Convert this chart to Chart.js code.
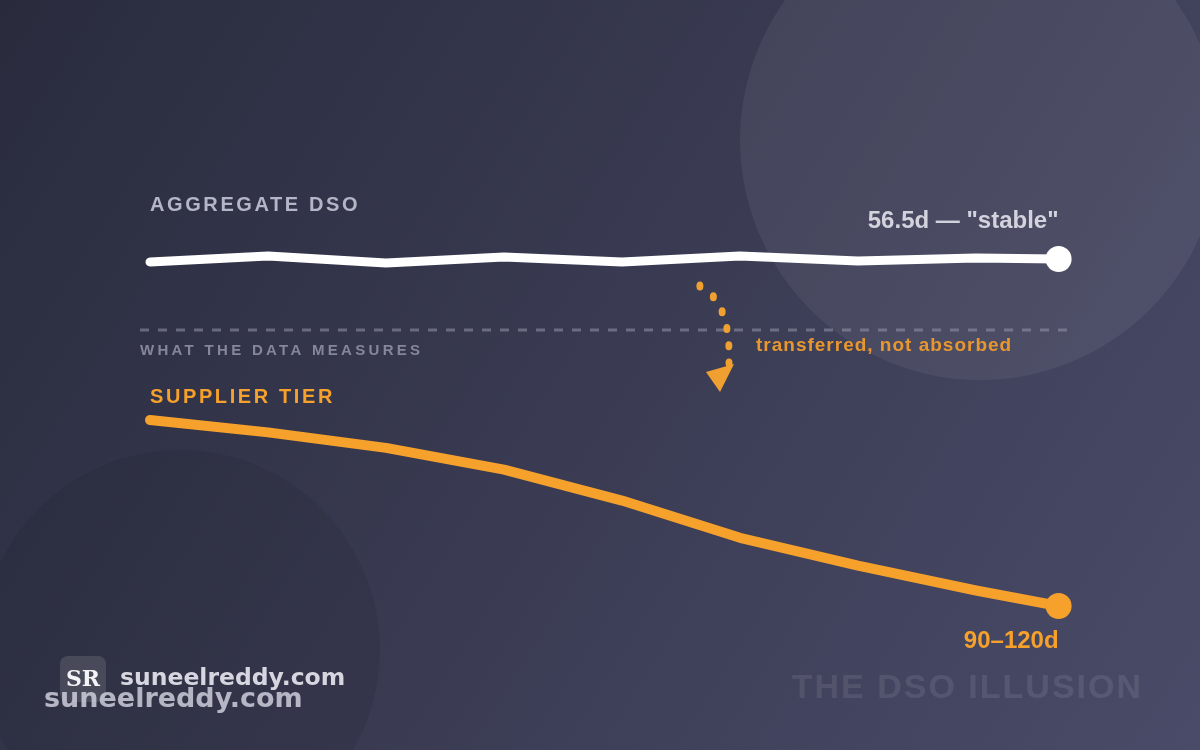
<!DOCTYPE html>
<html>
<head>
<meta charset="utf-8">
<script src="https://cdn.jsdelivr.net/npm/chart.js@4"></script>
<style>
  html, body { margin:0; padding:0; background:#2b2c3f; }
  #wrap { position:relative; width:1200px; height:750px; }
</style>
</head>
<body>
<div id="wrap"><canvas id="c"></canvas></div>
<script>
// periods along the timeline (last one is the current reading)
const periods = [0, 1, 2, 3, 4, 5, 6, 7, 7.7];
// aggregate DSO in days, looks flat
const aggregateDso = [56.2, 56.8, 56.1, 56.7, 56.2, 56.8, 56.3, 56.6, 56.5];
// days suppliers actually wait for payment
const supplierDays = [45, 49, 54, 61, 71, 83, 92, 100, 105];

const WHITE = '#ffffff';
const ORANGE = '#f5a12b';
const FONT = '"Liberation Sans", Arial, sans-serif';

const toPts = (ys) => ys.map((y, i) => ({ x: periods[i], y }));

// quadratic curve, dots spaced evenly along its length
function evenDots(p0, c, p1, n){
  const q = (t) => ({
    x: (1-t)*(1-t)*p0.x + 2*(1-t)*t*c.x + t*t*p1.x,
    y: (1-t)*(1-t)*p0.y + 2*(1-t)*t*c.y + t*t*p1.y
  });
  const samples = [];
  let len = 0, prev = q(0);
  for (let i = 0; i <= 200; i++){
    const p = q(i/200);
    len += Math.hypot(p.x-prev.x, p.y-prev.y);
    samples.push({ p, len });
    prev = p;
  }
  const out = [];
  for (let k = 0; k < n; k++){
    const target = len * k / (n-1);
    const s = samples.find(s => s.len >= target - 1e-6) || samples[samples.length-1];
    out.push(s.p);
  }
  return out;
}

const decor = {
  id: 'decor',
  beforeDraw(chart) {
    const { ctx, width: w, height: h } = chart;
    ctx.save();
    const g = ctx.createLinearGradient(0, 0, w, h);
    g.addColorStop(0, '#292b3d');
    g.addColorStop(1, '#4a4b68');
    ctx.fillStyle = g;
    ctx.fillRect(0, 0, w, h);
    // soft circles
    ctx.fillStyle = 'rgba(255,255,255,0.06)';
    ctx.beginPath(); ctx.arc(980, 140, 240, 0, Math.PI * 2); ctx.fill();
    ctx.fillStyle = 'rgba(0,0,0,0.07)';
    ctx.beginPath(); ctx.arc(180, 650, 200, 0, Math.PI * 2); ctx.fill();
    ctx.restore();
  },
  afterDatasetsDraw(chart) {
    const { ctx } = chart;
    const x = chart.scales.x;
    const lastX = x.getPixelForValue(periods[periods.length - 1]);
    ctx.save();

    // divider
    ctx.strokeStyle = 'rgba(150,150,170,0.55)';
    ctx.lineWidth = 3;
    ctx.setLineDash([9, 9]);
    ctx.beginPath(); ctx.moveTo(140, 330); ctx.lineTo(1070, 330); ctx.stroke();
    ctx.setLineDash([]);

    ctx.textBaseline = 'middle';
    ctx.textAlign = 'left';

    ctx.font = 'bold 20px ' + FONT;
    ctx.letterSpacing = '2.6px';
    ctx.fillStyle = '#b4b5c6';
    ctx.fillText('AGGREGATE DSO', 150, 205);

    ctx.fillStyle = ORANGE;
    ctx.fillText('SUPPLIER TIER', 150, 397);

    ctx.font = 'bold 15px ' + FONT;
    ctx.letterSpacing = '3.3px';
    ctx.fillStyle = '#85869a';
    ctx.fillText('WHAT THE DATA MEASURES', 140, 351);

    ctx.font = 'bold 19px ' + FONT;
    ctx.letterSpacing = '1px';
    ctx.fillStyle = '#e8972f';
    ctx.fillText('transferred, not absorbed', 756, 346);

    ctx.letterSpacing = '0px';
    ctx.textAlign = 'right';
    ctx.font = 'bold 24px ' + FONT;
    ctx.fillStyle = '#d3d3de';
    ctx.fillText('56.5d \u2014 "stable"', lastX, 221);
    ctx.fillStyle = ORANGE;
    ctx.fillText('90\u2013120d', lastX, 641);

    ctx.font = 'bold 34px ' + FONT;
    ctx.letterSpacing = '2px';
    ctx.fillStyle = 'rgba(255,255,255,0.09)';
    ctx.fillText('THE DSO ILLUSION', 1143, 689);
    ctx.letterSpacing = '0px';

    // dotted arrow from aggregate line down towards supplier tier
    const start = { x: x.getPixelForValue(4.66), y: 286 };
    const dots = evenDots(start, { x: 731, y: 302 }, { x: 729, y: 363 }, 6);
    ctx.fillStyle = '#f0a030';
    dots.forEach(p => {
      ctx.beginPath(); ctx.ellipse(p.x, p.y, 3.5, 4.5, 0, 0, Math.PI * 2); ctx.fill();
    });
    ctx.beginPath();
    ctx.moveTo(706, 372); ctx.lineTo(734, 364); ctx.lineTo(720, 392); ctx.closePath();
    ctx.fill();

    // watermark
    ctx.fillStyle = 'rgba(255,255,255,0.12)';
    ctx.beginPath(); ctx.roundRect(60, 656, 46, 46, 8); ctx.fill();
    ctx.textAlign = 'center';
    ctx.font = 'bold 22px "DejaVu Serif", "Liberation Serif", serif';
    ctx.fillStyle = '#f4f4f8';
    ctx.fillText('SR', 83, 680);
    ctx.textAlign = 'left';
    ctx.font = 'bold 23.5px "DejaVu Sans", sans-serif';
    ctx.fillStyle = '#d6d6e0';
    ctx.fillText('suneelreddy.com', 120, 679);
    ctx.font = 'bold 27px "DejaVu Sans", sans-serif';
    ctx.fillStyle = 'rgba(215,215,228,0.8)';
    ctx.fillText('suneelreddy.com', 44, 700);
    ctx.restore();
  }
};

const lastIdx = periods.length - 1;
const endDot = (c) => c.dataIndex === lastIdx ? 13 : 0;

new Chart(document.getElementById('c'), {
  type: 'line',
  data: {
    datasets: [
      {
        label: 'Aggregate DSO',
        data: toPts(aggregateDso),
        yAxisID: 'yA',
        borderColor: WHITE,
        backgroundColor: WHITE,
        borderWidth: 9,
        borderCapStyle: 'round',
        borderJoinStyle: 'round',
        pointRadius: endDot,
        pointBorderWidth: 0,
        tension: 0,
        clip: false
      },
      {
        label: 'Supplier tier',
        data: toPts(supplierDays),
        yAxisID: 'yS',
        borderColor: ORANGE,
        backgroundColor: ORANGE,
        borderWidth: 10,
        borderCapStyle: 'round',
        borderJoinStyle: 'round',
        pointRadius: endDot,
        pointBorderWidth: 0,
        tension: 0,
        clip: false
      }
    ]
  },
  options: {
    responsive: true,
    maintainAspectRatio: false,
    animation: false,
    devicePixelRatio: 1,
    layout: { padding: { left: 150, right: 141.4, top: 200, bottom: 100 } },
    plugins: { legend: { display: false }, tooltip: { enabled: false } },
    scales: {
      x: { type: 'linear', min: 0, max: 7.7, display: false },
      yA: { type: 'linear', min: 17.4, max: 62.4, display: false },
      yS: { type: 'linear', min: -25.97, max: 119.2, reverse: true, display: false }
    }
  },
  plugins: [decor]
});
</script>
</body>
</html>
